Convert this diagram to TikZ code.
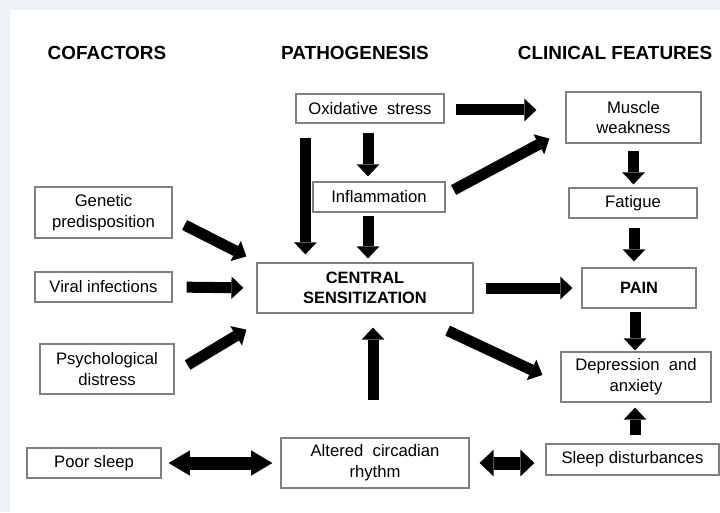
\documentclass[tikz,border=0pt]{standalone}
\usepackage{fontspec}
\setmainfont{Liberation Sans}
\usetikzlibrary{arrows.meta,calc}
\begin{document}
\begin{tikzpicture}[x=0.75pt,y=-0.75pt,
  box/.style={draw=black!50, line width=0.9pt, fill=white, align=center, inner sep=0pt,
    font=\fontsize{12.5}{15.5}\selectfont},
  hdr/.style={font=\fontsize{14.2}{17}\selectfont\bfseries, inner sep=0pt},
  blk/.style={line width=8.25pt, -{Triangle[length=9pt,width=17pt,line width=0pt]}},
  dbl/.style={line width=9.75pt, {Triangle[length=16pt,width=19pt,line width=0pt]}-{Triangle[length=16pt,width=19pt,line width=0pt]}},
  dbls/.style={line width=9.75pt, {Triangle[length=10.5pt,width=20pt,line width=0pt]}-{Triangle[length=10.5pt,width=20pt,line width=0pt]}}
]
\useasboundingbox (0,0) rectangle (720,512);
\fill[fill={rgb,255:red,238;green,241;blue,246}] (0,0) rectangle (720,512);
\fill[white] (10,10) rectangle (720,512);

% headers
\node[hdr] (h1) at (107,53) {COFACTORS};
\node[hdr] (h2) at (355,53) {PATHOGENESIS};
\node[hdr] (h3) at (615,53) {CLINICAL FEATURES};

% boxes
\node[box, minimum width=111pt, minimum height=21.75pt] (ox) at (370,108.5) {Oxidative\ \ stress};
\node[box, minimum width=99pt, minimum height=22.5pt] (inf) at (379,197) {Inflammation};
\node[box, minimum width=101.25pt, minimum height=38.25pt] (mw) at (633.5,117.5) {Muscle\\weakness};
\node[box, minimum width=96pt, minimum height=22.5pt] (fat) at (633,203) {Fatigue};
\node[box, minimum width=102.75pt, minimum height=38.25pt] (gen) at (103.5,212.5) {Genetic\\predisposition};
\node[box, minimum width=102.75pt, minimum height=22.5pt] (vir) at (103.5,287) {Viral infections};
\node[box, minimum width=100.5pt, minimum height=37.5pt] (psy) at (107,369) {Psychological\\distress};
\node[box, minimum width=100.5pt, minimum height=22.5pt] (poor) at (94,463) {Poor sleep};
\node[box, minimum width=162pt, minimum height=37.5pt, font=\fontsize{12.3}{15.5}\selectfont\bfseries] (cs) at (365,288) {CENTRAL\\SENSITIZATION};
\node[box, minimum width=141pt, minimum height=37.5pt] (alt) at (375,463) {Altered\ \ circadian\\rhythm};
\node[box, minimum width=85.5pt, minimum height=30pt, font=\fontsize{12.3}{15.5}\selectfont\bfseries] (pain) at (639,288) {PAIN};
\node[box, minimum width=112.5pt, minimum height=37.5pt] (dep) at (636,377) {Depression\ \ and\\anxiety};
\node[box, minimum width=129.75pt, minimum height=23.25pt] (sl) at (632.5,459.5) {Sleep disturbances};

% arrows
% oxidative -> muscle weakness
\draw[blk, shorten <=8.25pt, shorten >=21.75pt] ([yshift=-1.1pt]ox.east) -- ([yshift=-1.1pt]ox.east -| mw.west);
% oxidative -> inflammation
\draw[blk, shorten <=6.75pt, shorten >=3.75pt] ([xshift=-1.5pt]ox.south) -- ([xshift=-1.5pt]ox.south |- inf.north);
% oxidative -> central sensitization
\draw[blk, shorten <=10.5pt, shorten >=6pt] ([xshift=7.5pt]ox.south west) -- ([xshift=7.5pt]ox.south west |- cs.north);
% inflammation -> central sensitization
\draw[blk, shorten <=2.25pt, shorten >=3pt] ([xshift=-8.25pt]inf.south) -- ([xshift=-8.25pt]inf.south |- cs.north);
% inflammation -> muscle weakness
\draw[blk] ($(inf.east)+(8,-7)$) -- ($(mw.south west)+(-16,-5)$);
% genetic -> central
\draw[blk] ($(gen.east)+(12,12.5)$) -- ($(cs.north west)+(-10,-6)$);
% viral -> central
\draw[blk, shorten <=10.5pt, shorten >=9.75pt] (vir.east) -- (cs.west);
% psychological -> central
\draw[blk] ($(psy.east)+(13,-4)$) -- ($(cs.south west)+(-10,16)$);
% central -> pain
\draw[blk, shorten <=9pt, shorten >=6.75pt] (cs.east) -- (pain.west);
% central -> depression
\draw[blk] ($(cs.south east)+(-26,17)$) -- ($(dep.west)+(-18,-2)$);
% altered -> central
\draw[blk, shorten <=27.75pt, shorten >=10.5pt] ([xshift=-1.5pt]alt.north) -- ([xshift=-1.5pt]alt.north |- cs.south);
% muscle -> fatigue
\draw[blk, shorten <=5.25pt, shorten >=2.25pt] (mw.south) -- (mw.south |- fat.north);
% fatigue -> pain
\draw[blk, shorten <=6.75pt, shorten >=4.5pt] ([xshift=0.75pt]fat.south) -- ([xshift=0.75pt]fat.south |- pain.north);
% pain -> depression
\draw[blk, shorten <=2.25pt, shorten >=0.75pt] ([xshift=-3pt]pain.south) -- ([xshift=-3pt]pain.south |- dep.north);
% sleep disturbances -> depression
\draw[blk, shorten <=6pt, shorten >=3.75pt] ([xshift=1.9pt]sl.north) -- ([xshift=1.9pt]sl.north |- dep.south);
% poor sleep <-> altered
\draw[dbl, shorten <=5.25pt, shorten >=6pt] (poor.east) -- (alt.west);
% altered <-> sleep disturbances
\draw[dbls, shorten <=7.5pt, shorten >=8.25pt] (alt.east) -- (alt.east -| sl.west);
\end{tikzpicture}
\end{document}
